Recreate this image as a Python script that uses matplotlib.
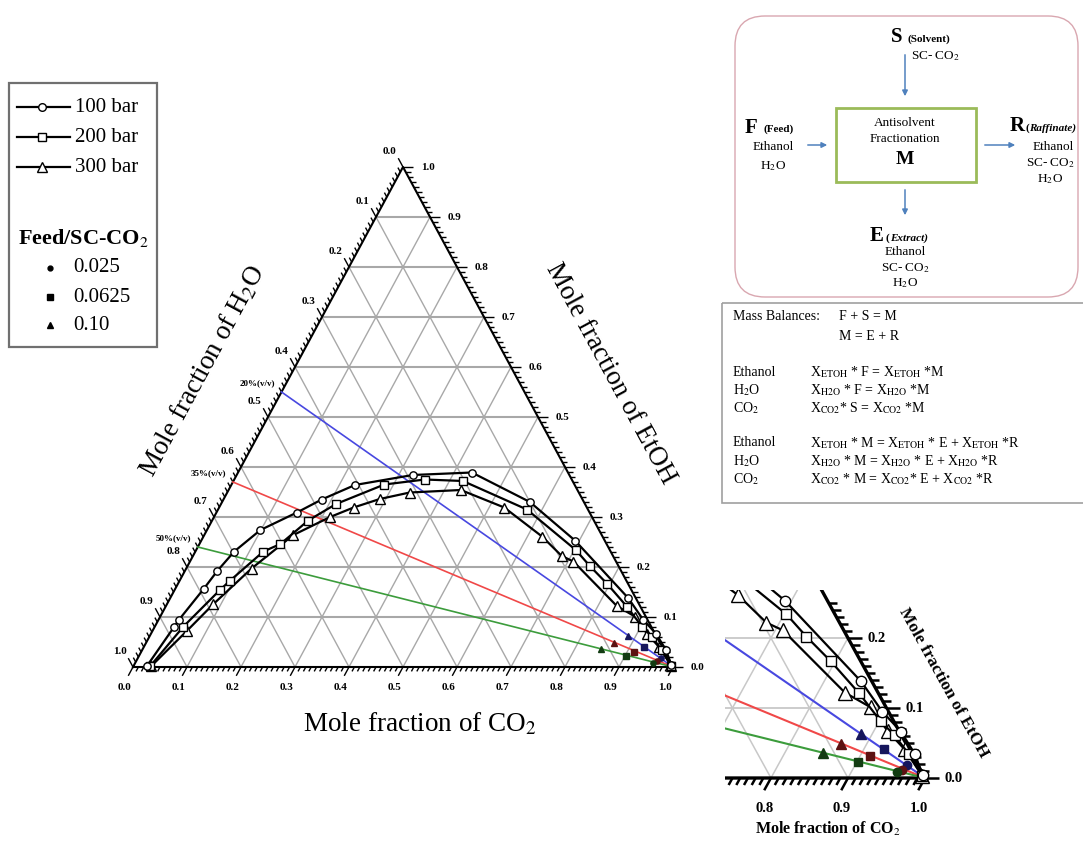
import numpy as np
import matplotlib.pyplot as plt
from matplotlib.collections import LineCollection
from matplotlib.patches import Rectangle, FancyBboxPatch

plt.rcParams['font.family'] = ['Liberation Serif', 'DejaVu Serif']
plt.rcParams['mathtext.fontset'] = 'stix'

# binodal curves, mole fraction of CO2 / EtOH (H2O is the rest)
co2_100 = [0.025, 0.036, 0.038, 0.053, 0.060, 0.072, 0.099, 0.149, 0.182, 0.229,
           0.326, 0.433, 0.570, 0.692, 0.848, 0.897, 0.936, 0.970, 0.995]
etoh_100 = [0.003, 0.080, 0.095, 0.157, 0.192, 0.231, 0.274, 0.309, 0.335, 0.364,
            0.384, 0.389, 0.330, 0.253, 0.138, 0.095, 0.066, 0.034, 0.004]

co2_200 = [0.031, 0.053, 0.084, 0.093, 0.126, 0.150, 0.178, 0.213, 0.283, 0.353,
           0.425, 0.572, 0.703, 0.745, 0.794, 0.854, 0.902, 0.930, 0.962, 0.995]
etoh_200 = [0.002, 0.081, 0.154, 0.172, 0.231, 0.246, 0.293, 0.326, 0.365, 0.375,
            0.372, 0.315, 0.234, 0.202, 0.167, 0.121, 0.081, 0.061, 0.034, 0.003]

co2_300 = [0.033, 0.064, 0.086, 0.121, 0.165, 0.215, 0.249, 0.289, 0.338, 0.430,
           0.528, 0.627, 0.683, 0.710, 0.835, 0.879, 0.918, 0.953, 0.995]
etoh_300 = [0.002, 0.073, 0.126, 0.197, 0.264, 0.300, 0.319, 0.336, 0.349, 0.354,
            0.319, 0.261, 0.222, 0.211, 0.122, 0.101, 0.067, 0.041, 0.003]

# feed compositions on the H2O-EtOH side, joined to pure CO2
tie_labels = ['20%(v/v)', '35%(v/v)', '50%(v/v)']
tie_etoh = [0.55, 0.37, 0.24]
tie_colors = ['#4848e0', '#f04848', '#3c9c3c']
feed_colors = ['#16165c', '#5c1212', '#123c12']

# mixing points M for Feed/SC-CO2 = 0.10, 0.0625, 0.025 (20%, 35%, 50%)
feed_co2_010 = [0.885, 0.866, 0.849]
feed_etoh_010 = [0.063, 0.049, 0.036]
feed_co2_00625 = [0.926, 0.913, 0.901]
feed_etoh_00625 = [0.041, 0.031, 0.023]
feed_co2_0025 = [0.968, 0.964, 0.959]
feed_etoh_0025 = [0.018, 0.012, 0.009]

W, H = 1083, 844
fig = plt.figure(figsize=(W / 100, H / 100), dpi=100)


def px_axes(x0, y0, x1, y1):
    return fig.add_axes([x0 / W, 1 - y1 / H, (x1 - x0) / W, (y1 - y0) / H])


def to_xy(co2, etoh):
    co2 = np.asarray(co2, float)
    etoh = np.asarray(etoh, float)
    return co2 + etoh / 2, etoh


def draw_diagram(ax, grid_color, grid_lw, hgrid_lw, edge_lw, curve_lw, ms, feed_ms, tie_lw, clip):
    for v in np.arange(1, 10) / 10:
        ax.plot([v / 2, 1 - v / 2], [v, v], color=grid_color, lw=hgrid_lw, zorder=1, clip_on=clip)
        ax.plot(*to_xy([v, v], [0, 1 - v]), color=grid_color, lw=grid_lw, zorder=1, clip_on=clip)
        ax.plot(*to_xy([1 - v, 0], [0, 1 - v]), color=grid_color, lw=grid_lw, zorder=1, clip_on=clip)
    ax.plot([0, 1, 0.5, 0], [0, 0, 1, 0], color='k', lw=edge_lw, zorder=2, clip_on=clip)
    for e0, col in zip(tie_etoh, tie_colors):
        ax.plot(*to_xy([0, 1], [e0, 0]), color=col, lw=tie_lw, zorder=3, clip_on=clip)
    for co2, etoh, mk, s in [(co2_300, etoh_300, '^', 1.3),
                             (co2_200, etoh_200, 's', 1.0),
                             (co2_100, etoh_100, 'o', 1.0)]:
        ax.plot(*to_xy(co2, etoh), '-', color='k', lw=curve_lw, marker=mk, ms=ms * s,
                mfc='white', mec='k', mew=1.0, zorder=4, clip_on=clip)
    for co2, etoh, mk, s in [(feed_co2_010, feed_etoh_010, '^', 1.25),
                             (feed_co2_00625, feed_etoh_00625, 's', 1.0),
                             (feed_co2_0025, feed_etoh_0025, 'o', 1.0)]:
        x, y = to_xy(co2, etoh)
        for xi, yi, col in zip(x, y, feed_colors):
            ax.plot(xi, yi, marker=mk, ms=feed_ms * s, color=col, zorder=5, clip_on=clip)


def edge_ticks(ax, sx, sy, minor_len, major_len, lw, keep):
    dirs = {'bottom': (-0.5 * sx, -sy), 'left': (-0.5 * sx, sy), 'right': (sx, 0.0)}
    segs = []
    for side, (dx, dy) in dirs.items():
        n = np.hypot(dx, dy)
        dx, dy = dx / n, dy / n
        for i in range(101):
            v = i / 100
            if not keep(side, v):
                continue
            if side == 'bottom':
                p = (v, 0.0)
            elif side == 'left':
                p = ((1 - v) / 2, 1 - v)
            else:
                p = (1 - v / 2, v)
            L = major_len if i % 10 == 0 else minor_len
            segs.append([p, (p[0] + L * dx / sx, p[1] + L * dy / sy)])
    ax.add_collection(LineCollection(segs, colors='k', linewidths=lw, clip_on=False, zorder=2))


# overlay in pixel coordinates for legend, scheme and titles
ov = px_axes(0, 0, W, H)
ov.set_xlim(0, W)
ov.set_ylim(H, 0)
ov.axis('off')

# ---- main ternary diagram ----
ax = px_axes(133, 167, 673, 667)
ax.set_xlim(0, 1)
ax.set_ylim(0, 1)
ax.axis('off')
draw_diagram(ax, '#a8a8a8', 1.0, 1.5, 1.5, 1.6, 5.3, 3.8, 1.2, False)
edge_ticks(ax, 540, 500, 5, 10, 1.0, lambda side, v: True)

tk = dict(fontsize=8, fontweight='bold', textcoords='offset points', va='center')
for i in range(11):
    v = i / 10
    lab = f'{v:.1f}'
    ax.annotate(lab, (v, 0), xytext=(-5.8, -14.4), ha='center', **tk)
    ax.annotate(lab, ((1 - v) / 2, 1 - v), xytext=(-9.4, 10.8), ha='center', **tk)
    ax.annotate(lab, (1 - v / 2, v), xytext=(13, 0), ha='left', **tk)

for e0, lab in zip(tie_etoh, tie_labels):
    ax.annotate(lab, to_xy(0, e0), xytext=(-4.5, 6), textcoords='offset points',
                ha='right', va='center', fontsize=6.5, fontweight='bold')

ov.text(420, 724, 'Mole fraction of CO$_2$', fontsize=19.5, ha='center', va='center')
ov.text(203, 371, 'Mole fraction of H$_2$O', fontsize=19.5, ha='center', va='center',
        rotation=61.6, rotation_mode='anchor')
ov.text(611, 374, 'Mole fraction of EtOH', fontsize=19.5, ha='center', va='center',
        rotation=-61.6, rotation_mode='anchor')

# ---- zoom on the CO2 corner ----
ins = px_axes(725, 590, 1000, 799)
ins.set_xlim(0.7403, 1.0974)
ins.set_ylim(-0.03, 0.2686)
ins.axis('off')
draw_diagram(ins, '#c8c8c8', 1.1, 1.3, 2.4, 1.6, 7.5, 6.0, 1.5, True)
edge_ticks(ins, 770, 700, 8, 14, 1.8,
           lambda side, v: (side == 'bottom' and v >= 0.75) or (side == 'right' and v <= 0.25))
tk_in = dict(fontsize=10.5, fontweight='bold', textcoords='offset points', va='center')
for v in [0.8, 0.9, 1.0]:
    ins.annotate(f'{v:.1f}', (v, 0), xytext=(-4.3, -22.3), ha='center', **tk_in)
for v in [0.0, 0.1, 0.2]:
    ins.annotate(f'{v:.1f}', (1 - v / 2, v), xytext=(14, 0), ha='left', **tk_in)
ov.text(828, 829, 'Mole fraction of CO$_2$', fontsize=11.5, fontweight='bold',
        ha='center', va='center')
ov.text(943, 683, 'Mole fraction of EtOH', fontsize=12.5, fontweight='bold',
        ha='center', va='center', rotation=-61, rotation_mode='anchor')

# ---- legend ----
ov.add_patch(Rectangle((9, 83), 148, 264, fill=False, ec='#707070', lw=1.6))
for y, mk, lab, s in [(107, 'o', '100 bar', 1.0), (137, 's', '200 bar', 1.0), (167, '^', '300 bar', 1.3)]:
    ov.plot([17, 70], [y, y], color='k', lw=1.6)
    ov.plot(42, y, marker=mk, ms=5.5 * s, mfc='white', mec='k', mew=1.0)
    ov.text(75, y, lab, fontsize=15, va='center')
ov.text(83, 238, 'Feed/SC-CO$_2$', fontsize=16, fontweight='bold', ha='center', va='center')
for y, mk, lab, ms in [(268, 'o', '0.025', 3.5), (297, 's', '0.0625', 4.2), (325, '^', '0.10', 5.0)]:
    ov.plot(50, y, marker=mk, ms=ms, color='k')
    ov.text(73, y, lab, fontsize=15, va='center')

# ---- process scheme ----
ov.add_patch(FancyBboxPatch((735, 16), 343, 281, boxstyle='round,pad=0,rounding_size=30',
                            fill=False, ec='#d9a7b0', lw=1.0))
ov.add_patch(Rectangle((836, 108), 140, 74, fill=False, ec='#9bbb59', lw=2.0))
arrow = dict(arrowstyle='-|>', color='#4f81bd', lw=1.1, mutation_scale=8)
ov.annotate('', xy=(905, 99), xytext=(905, 52), arrowprops=arrow)
ov.annotate('', xy=(830, 145), xytext=(805, 145), arrowprops=arrow)
ov.annotate('', xy=(1018, 145), xytext=(982, 145), arrowprops=arrow)
ov.annotate('', xy=(905, 218), xytext=(905, 187), arrowprops=arrow)

big = dict(fontsize=15, fontweight='bold', va='center')
small_b = dict(fontsize=8, fontweight='bold', va='center')
txt = dict(fontsize=9.5, va='center', ha='center')
ov.text(897, 37, 'S', ha='center', **big)
ov.text(908, 39, '(Solvent)', ha='left', **small_b)
ov.text(935, 56, 'SC- CO$_2$', **txt)
ov.text(905, 123, 'Antisolvent', **txt)
ov.text(905, 139, 'Fractionation', **txt)
ov.text(905, 159, 'M', ha='center', fontsize=14, fontweight='bold', va='center')
ov.text(751, 128, 'F', ha='center', **big)
ov.text(764, 129, '(Feed)', ha='left', **small_b)
ov.text(773, 147, 'Ethanol', **txt)
ov.text(773, 166, 'H$_2$O', **txt)
ov.text(1017, 126, 'R', ha='center', **big)
ov.text(1025, 128, '(', ha='left', **small_b)
ov.text(1029, 128, 'Raffinate)', ha='left', style='italic', **small_b)
ov.text(1053, 147, 'Ethanol', **txt)
ov.text(1050, 163, 'SC- CO$_2$', **txt)
ov.text(1050, 179, 'H$_2$O', **txt)
ov.text(877, 236, 'E', ha='center', **big)
ov.text(886, 238, '(', ha='left', **small_b)
ov.text(890, 238, 'Extract)', ha='left', style='italic', **small_b)
ov.text(905, 252, 'Ethanol', **txt)
ov.text(905, 268, 'SC- CO$_2$', **txt)
ov.text(905, 283, 'H$_2$O', **txt)

# ---- mass balances ----
ov.add_patch(Rectangle((722, 303), 380, 200, fill=False, ec='#a0a0a0', lw=1.2, clip_on=False))
mb = dict(fontsize=10, va='center', ha='left')
ov.text(733, 317, 'Mass Balances:', **mb)
ov.text(839, 317, 'F + S = M', **mb)
ov.text(839, 337, 'M = E + R', **mb)
rows = [
    (372, 'Ethanol', r'X$_{\rm ETOH}$ * F = X$_{\rm ETOH}$ *M'),
    (390, 'H$_2$O', r'X$_{\rm H2O}$ * F = X$_{\rm H2O}$ *M'),
    (408, 'CO$_2$', r'X$_{\rm CO2}$* S = X$_{\rm CO2}$ *M'),
    (443, 'Ethanol', r'X$_{\rm ETOH}$ * M = X$_{\rm ETOH}$ * E + X$_{\rm ETOH}$ *R'),
    (461, 'H$_2$O', r'X$_{\rm H2O}$ * M = X$_{\rm H2O}$ * E + X$_{\rm H2O}$ *R'),
    (479, 'CO$_2$', r'X$_{\rm CO2}$ * M = X$_{\rm CO2}$* E + X$_{\rm CO2}$ *R'),
]
for y, name, eq in rows:
    ov.text(733, y, name, **mb)
    ov.text(810, y, eq, **mb)

fig.savefig('out.png', dpi=100)
